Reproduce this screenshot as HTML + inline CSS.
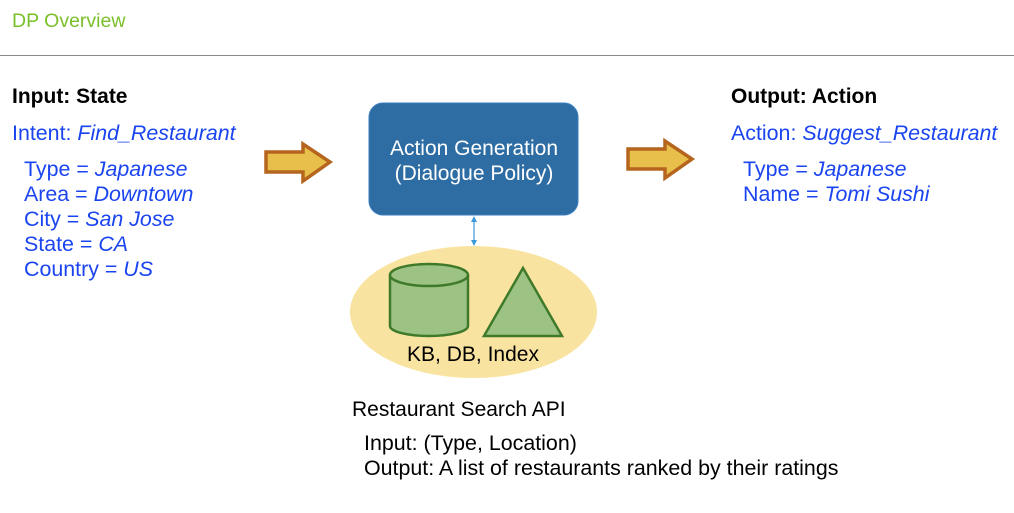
<!DOCTYPE html>
<html><head><style>
body{margin:0;width:1014px;height:513px;background:#fff;position:relative;font-family:"Liberation Sans",sans-serif;overflow:hidden}
.t{position:absolute;white-space:nowrap}
.b{color:#1a44f0;font-size:21.4px}
i{font-style:italic}
</style></head><body>
<div class="t" style="left:12px;top:10px;color:#7bbf2a;font-size:19.5px">DP Overview</div>
<div style="position:absolute;left:0;top:55px;width:1014px;height:1px;background:#888"></div>
<div class="t" style="left:12px;top:85px;font-size:21px;font-weight:bold">Input: State</div>
<div class="t b" style="left:12px;top:121px">Intent: <i>Find_Restaurant</i></div>
<div class="t b" style="left:24px;top:157px;line-height:25px">Type = <i>Japanese</i><br>Area = <i>Downtown</i><br>City = <i>San Jose</i><br>State = <i>CA</i><br>Country = <i>US</i></div>
<div class="t" style="left:731px;top:85px;font-size:21px;font-weight:bold">Output: Action</div>
<div class="t b" style="left:731px;top:121px">Action: <i>Suggest_Restaurant</i></div>
<div class="t b" style="left:743px;top:157px;line-height:25px">Type = <i>Japanese</i><br>Name = <i>Tomi Sushi</i></div>
<svg style="position:absolute;left:0;top:0" width="1014" height="513">
<polygon points="266,152 303,152 303,144 330,162 303,181 303,172 266,172" fill="#e9bf4c" stroke="#b5651d" stroke-width="3.5"/>
<polygon points="628,149 665,149 665,141 692,159 665,178 665,169 628,169" fill="#e9bf4c" stroke="#b5651d" stroke-width="3.5"/>
<rect x="369" y="103" width="209" height="112" rx="14" fill="#2e6da4" stroke="#3a7fc0"/>
<text x="474" y="155" fill="#fff" font-size="21" text-anchor="middle" font-family="Liberation Sans">Action Generation</text>
<text x="474" y="180" fill="#fff" font-size="21" text-anchor="middle" font-family="Liberation Sans">(Dialogue Policy)</text>
<line x1="474" y1="219" x2="474" y2="243" stroke="#3a9ad9" stroke-width="1.2"/>
<polygon points="474,216 471,222 477,222" fill="#3a9ad9"/>
<polygon points="474,246 471,240 477,240" fill="#3a9ad9"/>
<ellipse cx="473.5" cy="312" rx="123.5" ry="66" fill="#f9e3a0"/>
<path d="M390,275 L390,326 A39,10 0 0 0 468,326 L468,275" fill="#9dc384" stroke="#3f7a2a" stroke-width="2.5"/>
<ellipse cx="429" cy="275" rx="39" ry="11" fill="#9dc384" stroke="#3f7a2a" stroke-width="2.5"/>
<polygon points="523,268 562,336 484,336" fill="#9dc384" stroke="#3f7a2a" stroke-width="2.5"/>
<text x="473" y="361" font-size="21" text-anchor="middle" font-family="Liberation Sans">KB, DB, Index</text>
</svg>
<div class="t" style="left:352px;top:398px;font-size:21px">Restaurant Search API</div>
<div class="t" style="left:364px;top:431px;font-size:21.4px;line-height:25px">Input: (Type, Location)<br>Output: A list of restaurants ranked by their ratings</div>
</body></html>
